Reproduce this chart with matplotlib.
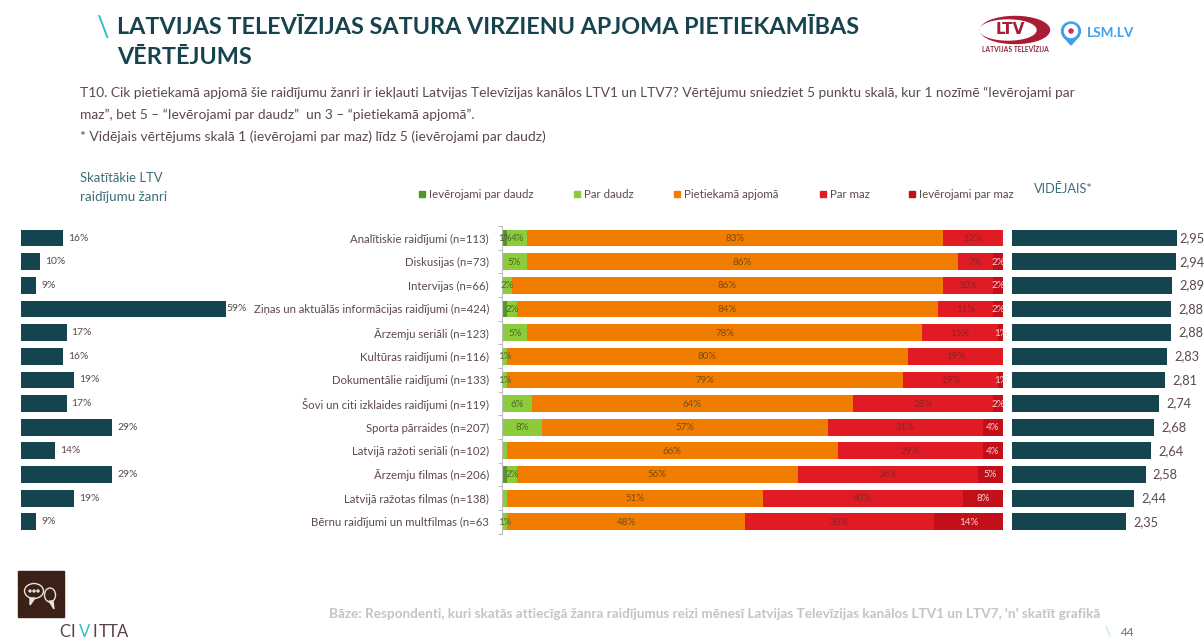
import numpy as np
import pandas as pd
import matplotlib
matplotlib.use("Agg")
import matplotlib.pyplot as plt
from matplotlib.patches import Rectangle, Ellipse, Polygon

# dati
zanri = ["Analītiskie raidījumi (n=113)", "Diskusijas (n=73)", "Intervijas (n=66)",
         "Ziņas un aktuālās informācijas raidījumi (n=424)", "Ārzemju seriāli (n=123)",
         "Kultūras raidījumi (n=116)", "Dokumentālie raidījumi (n=133)",
         "Šovi un citi izklaides raidījumi (n=119)", "Sporta pārraides (n=207)",
         "Latvijā ražoti seriāli (n=102)", "Ārzemju filmas (n=206)",
         "Latvijā ražotas filmas (n=138)", "Bērnu raidījumi un multfilmas (n=63"]
skatitakie = [16, 10, 9, 59, 17, 16, 19, 17, 29, 14, 29, 19, 9]
videjais = [2.95, 2.94, 2.89, 2.88, 2.88, 2.83, 2.81, 2.74, 2.68, 2.64, 2.58, 2.44, 2.35]

par_daudz_iev = [1, 0, 0, 1, 0, 0, 0, 0, 0, 0, 1, 0, 0]
par_daudz = [4, 5, 2, 2, 5, 1, 1, 6, 8, 1, 2, 1, 1]
pietiekami = [83, 86, 86, 84, 78, 80, 79, 64, 57, 66, 56, 51, 48]
par_maz = [12, 7, 10, 11, 15, 19, 19, 28, 31, 29, 36, 40, 38]
par_maz_iev = [0, 2, 2, 2, 1, 0, 1, 2, 4, 4, 5, 8, 14]

sadalijums = pd.DataFrame({
    "Ievērojami par daudz": par_daudz_iev,
    "Par daudz": par_daudz,
    "Pietiekamā apjomā": pietiekami,
    "Par maz": par_maz,
    "Ievērojami par maz": par_maz_iev,
})

krasas = ["#55962b", "#8ccb3c", "#f07c00", "#e01b24", "#c30f1a"]
uzraksti = ["#3f5a25", "#4e6b22", "#7a4a12", "#8c2326", "#f3d5d5"]
leg_x = [422, 577, 677, 823, 912]
teal = "#15444f"
teksts = "#5d4a4a"

plt.rcParams["font.family"] = ["Lato", "DejaVu Sans"]

W, H = 1204, 639
fig = plt.figure(figsize=(W / 100, H / 100), dpi=100)


def ass(x0, y0, x1, y1):
    # asis pēc pikseļiem (y no augšas)
    return fig.add_axes([x0 / W, 1 - y1 / H, (x1 - x0) / W, (y1 - y0) / H])


bg = ass(0, 0, W, H)
bg.set_xlim(0, W)
bg.set_ylim(H, 0)
bg.axis("off")

y = np.arange(len(zanri))
top, bot = 226.2, 533.6
bar_h = 0.71

# vidējā daļa - sakrautie stabiņi
ax = ass(502, top, 1003, bot)
procenti = sadalijums.div(sadalijums.sum(axis=1), axis=0) * 100
left = np.zeros(len(zanri))
# maziem segmentiem oriģinālā nav uzraksta
slepti = {(10, 0), (3, 0), (9, 1), (11, 1)}
for j, nosaukums in enumerate(sadalijums.columns):
    vert = procenti[nosaukums].values
    ax.barh(y, vert, left=left, height=bar_h, color=krasas[j], linewidth=0)
    for i in y:
        if sadalijums[nosaukums].iloc[i] > 0 and (i, j) not in slepti:
            ax.text(left[i] + vert[i] / 2, i + 0.02, f"{sadalijums[nosaukums].iloc[i]}%",
                    ha="center", va="center", fontsize=7, color=uzraksti[j])
    left += vert
ax.set_xlim(0, 100)
ax.set_ylim(len(zanri) - 0.5, -0.5)
ax.set_yticks(y)
ax.set_yticklabels(zanri, fontsize=8.2, color=teksts)
ax.set_yticks(np.arange(len(zanri) + 1) - 0.5, minor=True)
ax.tick_params(axis="y", which="major", length=0, pad=9.4)
ax.tick_params(axis="y", which="minor", length=3, color="#bdbdbd", width=0.7)
ax.set_xticks([])
for s in ["top", "right", "bottom"]:
    ax.spines[s].set_visible(False)
ax.spines["left"].set_color("#bdbdbd")
ax.spines["left"].set_linewidth(0.8)

# kreisā daļa - skatītākie žanri (ass sākas pie 5)
ax_l = ass(21, top, 249, bot)
ax_l.barh(y, np.array(skatitakie) - 5, left=5, height=bar_h, color=teal)
for i, v in enumerate(skatitakie):
    ax_l.annotate(f"{v}%", (v, i), xytext=(0 if v == 59 else 5, 0), textcoords="offset pixels",
                  va="center", fontsize=7.5, color=teksts, annotation_clip=False)
ax_l.set_xlim(5, 5 + 228 / 3.8)
ax_l.set_ylim(len(zanri) - 0.5, -0.5)
ax_l.axis("off")

# labā daļa - vidējais vērtējums
mer = 84.7
ax_r = ass(1012, top, 1204, bot)
ax_r.barh(y, np.array(videjais) - 1, left=1, height=bar_h, color=teal)
for i, v in enumerate(videjais):
    # augšējiem uzrakstiem nav vietas līdz malai
    nobide = min(7, (2.955 - v) * mer + 2)
    ax_r.annotate(f"{v:.2f}".replace(".", ","), (v, i), xytext=(nobide, 0), textcoords="offset pixels",
                  va="center", fontsize=9.2, color=teksts, annotation_clip=False)
ax_r.set_xlim(1, 1 + 192 / mer)
ax_r.set_ylim(len(zanri) - 0.5, -0.5)
ax_r.axis("off")

# leģenda
for x, nosaukums, k in zip(leg_x, sadalijums.columns, krasas):
    bg.add_patch(Rectangle((x - 3, 191), 6, 6, color=k))
    bg.text(x + 7, 194, nosaukums, fontsize=8.3, color=teksts, va="center")

# virsraksts un teksti
bg.text(96, 28, "\\", fontsize=20, color="#2fb8c6", va="center")
bg.text(117, 28, "LATVIJAS TELEVĪZIJAS SATURA VIRZIENU APJOMA PIETIEKAMĪBAS", fontsize=16.8,
        fontweight="bold", color=teal, va="center")
bg.text(117, 58, "VĒRTĒJUMS", fontsize=16.8, fontweight="bold", color=teal, va="center")
bg.text(80, 93, "T10. Cik pietiekamā apjomā šie raidījumu žanri ir iekļauti Latvijas Televīzijas kanālos LTV1 un LTV7? "
        "Vērtējumu sniedziet 5 punktu skalā, kur 1 nozīmē “Ievērojami par", fontsize=9.87, color=teksts, va="center")
bg.text(80, 115, "maz”, bet 5 – “Ievērojami par daudz”  un 3 – “pietiekamā apjomā”.", fontsize=9.87,
        color=teksts, va="center")
bg.text(80, 137, "* Vidējais vērtējums skalā 1 (ievērojami par maz) līdz 5 (ievērojami par daudz)", fontsize=10,
        color=teksts, va="center")
bg.text(80, 178, "Skatītākie LTV", fontsize=9.4, color="#3d6d78", va="center")
bg.text(80, 197, "raidījumu žanri", fontsize=9.6, color="#3d6d78", va="center")
bg.text(1034, 189, "VIDĒJAIS*", fontsize=9.2, color="#3d6d78", va="center")
bg.text(329, 614, "Bāze: Respondenti, kuri skatās attiecīgā žanra raidījumus reizi mēnesī Latvijas Televīzijas "
        "kanālos LTV1 un LTV7, 'n' skatīt grafikā", fontsize=9.7, color="#c4c4c4", fontweight="bold", va="center")
bg.text(1105, 632, "\\", fontsize=10, color="#a9dfe6", va="center")
bg.text(1121, 633, "44", fontsize=8.5, color="#6b6b6b", va="center")

# LTV logo
bg.add_patch(Ellipse((1015, 30), 69, 27, color="#a81c34"))
bg.add_patch(Ellipse((1008, 30), 56, 20, color="white"))
bg.text(1010, 30, "LTV", fontsize=11, fontweight="bold", family="DejaVu Sans", color="#a81c34",
        ha="center", va="center")
bg.text(1015, 50, "LATVIJAS TELEVĪZIJA", fontsize=4.9, fontweight="bold", color="#8c2a3a", ha="center", va="center")

# LSM logo
bg.add_patch(Polygon([(1063, 36), (1079, 36), (1071, 45)], color="#3ea0ef"))
bg.add_patch(Ellipse((1071, 31), 19, 18, color="#3ea0ef"))
bg.add_patch(Ellipse((1071, 31), 13, 13, color="white"))
bg.add_patch(Ellipse((1071, 31), 4, 4, color="#d0247c"))
bg.text(1087, 33, "LSM.LV", fontsize=9.8, fontweight="bold", color="#3ea0ef", va="center")

# Civitta logo
bg.add_patch(Rectangle((18, 571), 46, 46, color="#3b2018"))
bg.add_patch(Ellipse((50, 595), 11, 14, facecolor="#3b2018", edgecolor="#e8e2df", linewidth=1))
bg.add_patch(Ellipse((34, 591), 19, 15, facecolor="#3b2018", edgecolor="#e8e2df", linewidth=1))
for xt in [30, 34, 38]:
    bg.add_patch(Ellipse((xt, 591), 2, 2, color="#e8e2df"))
bg.add_patch(Polygon([(30, 598), (35, 598), (30, 605)], color="#e8e2df"))
bg.add_patch(Polygon([(49, 601), (53, 601), (54, 609)], color="#e8e2df"))
for x, t, k in [(59, "C", "#5a4048"), (71, "I", "#5a4048"), (79, "V", "#35bccb"), (93, "I", "#5a4048"),
                (99, "T", "#5a4048"), (108, "T", "#5a4048"), (117, "A", "#5a4048")]:
    bg.text(x, 632, t, fontsize=12, color=k, va="center")

plt.savefig("out.png", dpi=100)
